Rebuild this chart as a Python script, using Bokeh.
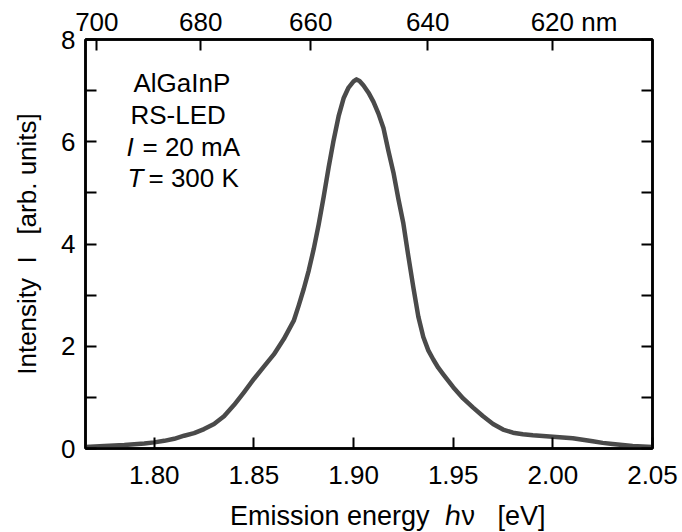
from bokeh.plotting import figure
from bokeh.models import LinearAxis, FixedTicker, Range1d, Label, NumeralTickFormatter, CustomJSTickFormatter
from bokeh.embed import file_html
from bokeh.resources import INLINE

# ---- data ----
energy_eV = [1.7655, 1.775, 1.785, 1.795, 1.800, 1.805, 1.810, 1.815, 1.820, 1.825,
             1.830, 1.835, 1.840, 1.845, 1.850, 1.855, 1.860, 1.865, 1.870, 1.8725,
             1.875, 1.8775, 1.880, 1.8825, 1.885, 1.8875, 1.890, 1.8925, 1.895, 1.8975,
             1.900, 1.9015, 1.903, 1.905, 1.9075, 1.910, 1.9125, 1.915, 1.9175, 1.920,
             1.9225, 1.925, 1.9275, 1.930, 1.9325, 1.935, 1.9375, 1.940, 1.9425, 1.945,
             1.950, 1.955, 1.960, 1.965, 1.970, 1.975, 1.980, 1.985, 1.990, 1.995,
             2.000, 2.005, 2.010, 2.015, 2.020, 2.025, 2.030, 2.035, 2.040, 2.045,
             2.050]
intensity = [0.03, 0.05, 0.07, 0.10, 0.12, 0.15, 0.19, 0.25, 0.30, 0.38,
             0.48, 0.63, 0.85, 1.10, 1.36, 1.60, 1.84, 2.14, 2.50, 2.80,
             3.12, 3.48, 3.90, 4.38, 4.92, 5.50, 6.03, 6.50, 6.85, 7.06,
             7.18, 7.22, 7.19, 7.10, 6.96, 6.78, 6.55, 6.27, 5.82, 5.40,
             4.88, 4.40, 3.76, 3.15, 2.58, 2.18, 1.92, 1.74, 1.58, 1.45,
             1.20, 0.98, 0.80, 0.63, 0.48, 0.37, 0.31, 0.28, 0.26, 0.245,
             0.23, 0.215, 0.20, 0.17, 0.14, 0.11, 0.09, 0.07, 0.05, 0.04,
             0.03]
x_ticks = [1.80, 1.85, 1.90, 1.95, 2.00, 2.05]
y_major_ticks = [0, 2, 4, 6, 8]
y_minor_ticks = [1, 3, 5, 7]
wavelength_ticks_nm = [700, 680, 660, 640, 620]
wavelength_unit = "nm"
HC_EV_NM = 1239.84

NB = "\u00a0"
x_title = NB * 5 + "Emission energy " + NB + "\u210e\u03bd" + NB + NB + " [eV]"
y_title = "Intensity " + NB + "I" + NB + NB + " [arb. units]"
annotation_lines = ["AlGaInP", "RS-LED"]

X0, X1, Y0, Y1 = 1.7655, 2.05, 0.0, 8.0

# frame position in the reference image (px)
L, R, T, B = 85, 652, 39, 448


def dx(ix):
    return X0 + (ix - L) * (X1 - X0) / (R - L)


def dy(iy):
    return Y0 + (B - iy) * (Y1 - Y0) / (B - T)


FONT = "Liberation Sans"
FS = "26px"

p = figure(frame_width=R - L, frame_height=B - T, x_range=Range1d(X0, X1), y_range=Range1d(Y0, Y1),
           output_backend="svg", toolbar_location=None,
           min_border_left=L, min_border_right=682 - R, min_border_top=T, min_border_bottom=532 - B)
p.grid.visible = False
p.background_fill_color = "white"
p.border_fill_color = "white"
p.outline_line_color = "black"
p.outline_line_width = 2.5


def style_axis(ax):
    ax.axis_line_color = "black"
    ax.axis_line_width = 2.5
    ax.major_tick_in = 11
    ax.major_tick_out = 0
    ax.minor_tick_in = 11
    ax.minor_tick_out = 0
    ax.major_tick_line_width = 2
    ax.minor_tick_line_width = 2
    ax.major_tick_line_color = "black"
    ax.minor_tick_line_color = "black"
    ax.major_label_text_font = FONT
    ax.major_label_text_font_size = FS
    ax.major_label_text_color = "black"
    ax.axis_label_text_font = FONT
    ax.axis_label_text_font_size = FS
    ax.axis_label_text_font_style = "normal"
    ax.axis_label_text_color = "black"


# bottom axis
xa = p.xaxis[0]
style_axis(xa)
xa.ticker = FixedTicker(ticks=x_ticks)
xa.formatter = NumeralTickFormatter(format="0.00")
xa.major_label_standoff = 17
xa.axis_label = x_title
xa.axis_label_standoff = 14
xa.axis_label_text_font_size = "27px"

# left axis
ya = p.yaxis[0]
style_axis(ya)
ya.ticker = FixedTicker(ticks=y_major_ticks, minor_ticks=y_minor_ticks)
ya.major_label_standoff = 10
ya.axis_label = y_title
ya.axis_label_standoff = 16

blank = CustomJSTickFormatter(code="return ''")

# right axis (ticks only)
ra = LinearAxis(ticker=FixedTicker(ticks=y_major_ticks, minor_ticks=y_minor_ticks), formatter=blank)
style_axis(ra)
ra.major_label_standoff = 0
p.add_layout(ra, "right")

# top axis (wavelength ticks)
top_positions = [HC_EV_NM / w for w in wavelength_ticks_nm]
overrides = {}
for w, e in zip(wavelength_ticks_nm, top_positions):
    overrides[e] = str(w)
# last label carries the unit; pad on the left so that the number stays centred on its tick
overrides[top_positions[-1]] = NB * 6 + str(wavelength_ticks_nm[-1]) + " " + wavelength_unit
ta = LinearAxis(ticker=FixedTicker(ticks=top_positions, minor_ticks=[]), major_label_overrides=overrides)
style_axis(ta)
ta.major_label_standoff = 3
p.add_layout(ta, "above")

# spectrum
p.line(energy_eV, intensity, line_color="#4a4a4a", line_width=4.5, line_join="round", line_cap="round")


def lab(text, ix, iy, style="normal"):
    p.add_layout(Label(x=dx(ix), y=dy(iy), text=text, text_font=FONT, text_font_size=FS,
                       text_font_style=style, text_color="black", text_align="left",
                       text_baseline="middle"))


# annotation block (anchors at the vertical middle of the capitals)
lab(annotation_lines[0], 133, 82)
lab(annotation_lines[1], 130, 114.5)
lab("I", 126, 146.5, style="italic")
lab("= 20 mA", 142, 146.5)
lab("T", 127, 177.5, style="italic")
lab("= 300 K", 148, 177.5)

open("out.html", "w").write(file_html(p, INLINE))
